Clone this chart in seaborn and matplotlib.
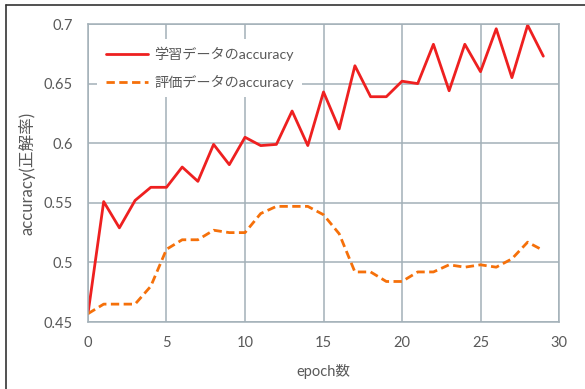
import matplotlib
matplotlib.use("Agg")
import matplotlib.pyplot as plt
from matplotlib.lines import Line2D
import numpy as np
import pandas as pd
import seaborn as sns

# Accuracy per epoch for the training and evaluation data
epochs = list(range(30))
train_acc = [0.457, 0.551, 0.529, 0.552, 0.563, 0.563, 0.580, 0.568, 0.599, 0.582,
             0.605, 0.598, 0.599, 0.627, 0.598, 0.643, 0.612, 0.665, 0.639, 0.639,
             0.652, 0.650, 0.683, 0.644, 0.683, 0.660, 0.696, 0.655, 0.699, 0.673]
eval_acc = [0.457, 0.465, 0.465, 0.465, 0.480, 0.511, 0.519, 0.519, 0.527, 0.525,
            0.525, 0.541, 0.547, 0.547, 0.547, 0.540, 0.524, 0.492, 0.492, 0.484,
            0.484, 0.492, 0.492, 0.498, 0.496, 0.498, 0.496, 0.503, 0.517, 0.510]
series_names = ["学習データのaccuracy", "評価データのaccuracy"]
x_ticks = [0, 5, 10, 15, 20, 25, 30]
y_ticks = [0.45, 0.5, 0.55, 0.6, 0.65, 0.7]
y_tick_labels = ["0.45", "0.5", "0.55", "0.6", "0.65", "0.7"]

sns.set_theme(style="white")
plt.rcParams["font.family"] = ["Lato", "Noto Sans CJK JP", "DejaVu Sans"]

df = pd.DataFrame({
    "epoch": epochs * 2,
    "accuracy": train_acc + eval_acc,
    "series": [series_names[0]] * len(epochs) + [series_names[1]] * len(epochs),
})

text_color = "#595959"
grid_color = "#A3B0B8"
palette = {series_names[0]: "#EE2020", series_names[1]: "#F5700A"}

fig = plt.figure(figsize=(5.85, 3.89), dpi=100)
ax = fig.add_axes([0.1504, 0.1722, 0.8052, 0.7661])

sns.lineplot(data=df, x="epoch", y="accuracy", hue="series", style="series",
             palette=palette, dashes={series_names[0]: "", series_names[1]: (3, 1.6)},
             linewidth=2.0, ax=ax, legend=True)

ax.set_xlim(0, 30)
ax.set_ylim(0.45, 0.7)
ax.set_xticks(x_ticks)
ax.set_yticks(y_ticks)
ax.set_yticklabels(y_tick_labels)
ax.grid(True, color=grid_color, linewidth=1.1)
ax.set_axisbelow(True)
for sp in ax.spines.values():
    sp.set_color(grid_color)
    sp.set_linewidth(1.1)
ax.tick_params(axis="both", length=0, labelsize=10.5, colors=text_color)
ax.tick_params(axis="x", pad=10)
ax.tick_params(axis="y", pad=11)

ax.set_xlabel("epoch数", fontsize=10.5, color=text_color, labelpad=10)
ax.set_ylabel("accuracy(正解率)", fontsize=12, color=text_color, labelpad=6)

leg = ax.legend(loc="upper left", bbox_to_anchor=(0.005, 0.975), frameon=True,
                fontsize=10.2, handlelength=3.0, handletextpad=0.4,
                labelspacing=0.95, borderpad=0.6)
leg.get_frame().set_facecolor("white")
leg.get_frame().set_edgecolor("none")
leg.get_frame().set_alpha(1.0)
for t in leg.get_texts():
    t.set_color(text_color)

# Outer frame lines along the top and left edges of the figure
fig.add_artist(Line2D([6 / 585, 1.0], [1 - 5 / 389, 1 - 5 / 389],
                      transform=fig.transFigure, color="#333333", linewidth=1.2))
fig.add_artist(Line2D([6 / 585, 6 / 585], [0.0, 1 - 5 / 389],
                      transform=fig.transFigure, color="#333333", linewidth=1.2))

fig.savefig("out.png", dpi=100)
